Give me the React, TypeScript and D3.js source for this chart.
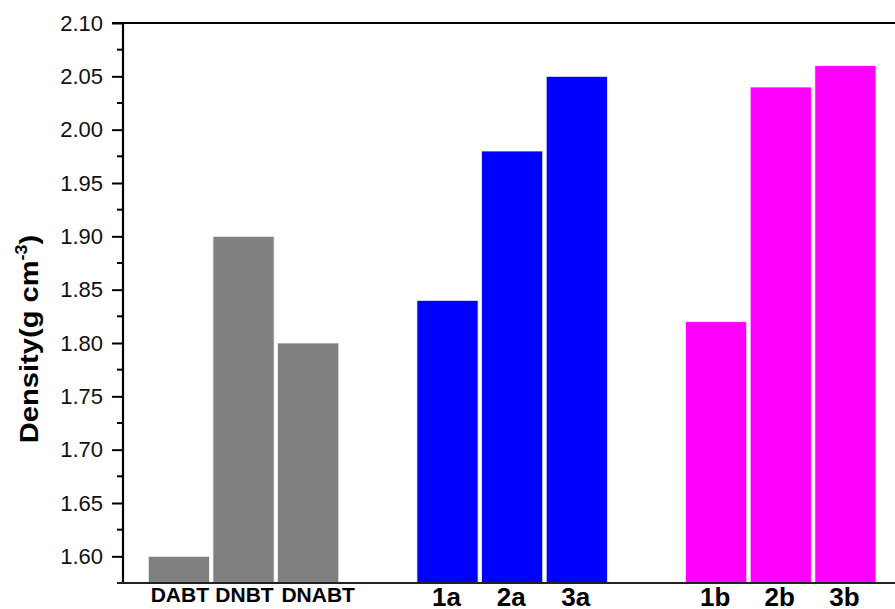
import React, { useEffect, useRef } from 'react';
import * as d3 from 'd3';

const groups = ['ref', 'a', 'b'];
const refNames = ['DABT', 'DNBT', 'DNABT'];
const refValues = [1.60, 1.90, 1.80];
const aNames = ['1a', '2a', '3a'];
const aValues = [1.84, 1.98, 2.05];
const bNames = ['1b', '2b', '3b'];
const bValues = [1.82, 2.04, 2.06];
const groupColors = ['#808080', '#0000ff', '#ff00ff'];
const yTicks = [1.60, 1.65, 1.70, 1.75, 1.80, 1.85, 1.90, 1.95, 2.00, 2.05, 2.10];

const W = 895;
const H = 609;

export default function App() {
    const ref = useRef<SVGSVGElement>(null);

    useEffect(() => {
        const svg = d3.select(ref.current);
        svg.selectAll('*').remove();

        const left = 123, top = 23, bottom = 583, right = 895;
        const font = '"Liberation Sans", Arial, Helvetica, sans-serif';

        var y = d3.scaleLinear().domain([1.575, 2.10]).range([bottom, top]);
        var x0 = d3.scaleBand().domain(groups).range([148.3, 876]).paddingInner(0.291).paddingOuter(0);
        var x1 = d3.scaleBand<number>().domain([0, 1, 2]).range([0, x0.bandwidth()]).paddingInner(0.054);

        const data = [
            { g: 'ref', names: refNames, values: refValues, big: false },
            { g: 'a', names: aNames, values: aValues, big: true },
            { g: 'b', names: bNames, values: bValues, big: true },
        ];

        svg.append('rect').attr('width', W).attr('height', H).attr('fill', '#ffffff');

        // bars
        data.forEach((grp, gi) => {
            const gx = x0(grp.g) as number;
            const gEl = svg.append('g');
            gEl.selectAll('rect')
                .data(grp.values)
                .enter()
                .append('rect')
                .attr('x', (d, i) => gx + (x1(i) as number))
                .attr('y', d => y(d))
                .attr('width', x1.bandwidth())
                .attr('height', d => bottom - y(d))
                .attr('fill', groupColors[gi])
                .attr('stroke', '#f4f4f4')
                .attr('stroke-width', 0.8);

            gEl.selectAll('text')
                .data(grp.names)
                .enter()
                .append('text')
                .attr('x', (d, i) => gx + (x1(i) as number) + x1.bandwidth() / 2 + (grp.big ? -1 : (i === 2 ? 10 : 1)))
                .attr('y', grp.big ? 606 : 602)
                .attr('text-anchor', 'middle')
                .attr('font-family', font)
                .attr('font-weight', 'bold')
                .attr('font-size', grp.big ? 26 : 21)
                .attr('fill', '#000')
                .text(d => d);
        });

        // y axis
        const axis = svg.append('g').attr('transform', `translate(${left},0)`);
        axis.call(d3.axisLeft(y).tickValues(yTicks).tickFormat(d3.format('.2f')).tickSize(11).tickPadding(9));
        axis.select('.domain').remove();
        axis.selectAll('.tick line').attr('stroke', '#000').attr('stroke-width', 2);
        axis.selectAll('.tick text')
            .attr('font-family', font)
            .attr('font-size', 22)
            .attr('fill', '#111');

        // minor ticks
        const minor = yTicks.slice(0, -1).map(d => d + 0.025);
        svg.append('g').selectAll('line')
            .data(minor)
            .enter()
            .append('line')
            .attr('x1', left - 6)
            .attr('x2', left)
            .attr('y1', d => y(d))
            .attr('y2', d => y(d))
            .attr('stroke', '#000')
            .attr('stroke-width', 2);

        // frame lines
        svg.append('line').attr('x1', left).attr('x2', left).attr('y1', top - 1).attr('y2', bottom + 1)
            .attr('stroke', '#000').attr('stroke-width', 2.2);
        svg.append('line').attr('x1', 112).attr('x2', right).attr('y1', top).attr('y2', top)
            .attr('stroke', '#000').attr('stroke-width', 2);
        svg.append('line').attr('x1', 117).attr('x2', right).attr('y1', bottom).attr('y2', bottom)
            .attr('stroke', '#222').attr('stroke-width', 2.2);

        // y title (source font is a bit wider, so stretch along the text)
        const title = svg.append('text')
            .attr('transform', 'translate(38,339) rotate(-90) scale(1.12,1)')
            .attr('text-anchor', 'middle')
            .attr('font-family', font)
            .attr('font-weight', 'bold')
            .attr('font-size', 26)
            .attr('fill', '#000');
        title.append('tspan').text('Density(g cm');
        title.append('tspan').attr('dy', -11).attr('font-size', 16).text('-3');
        title.append('tspan').attr('dy', 11).text(')');
    }, []);

    return (
        <div style={{ position: 'absolute', left: 0, top: 0 }}>
            <svg ref={ref} width={W} height={H}></svg>
        </div>
    );
}
